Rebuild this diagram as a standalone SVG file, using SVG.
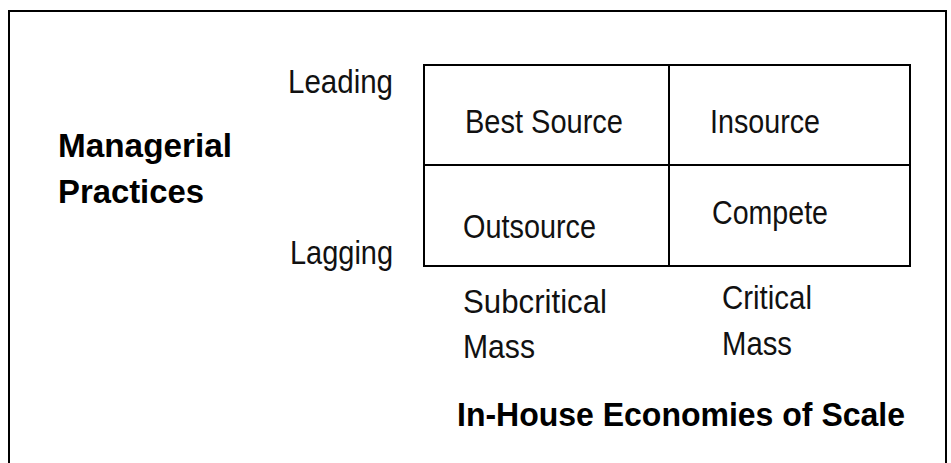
<svg xmlns="http://www.w3.org/2000/svg" width="951" height="463" viewBox="0 0 951 463">
<style>
.t{font-family:"Liberation Sans",Arial,sans-serif;font-size:34px;fill:#111}
.b{font-family:"Liberation Sans",Arial,sans-serif;font-size:33px;font-weight:bold;fill:#000}
.ln{stroke:#000;stroke-width:2;fill:none}
</style>
<rect width="951" height="463" fill="#fff"/>
<path class="ln" d="M9 463 V11 H946 V463" stroke-width="3"/>
<g id="axis-y">
<text class="b" x="58" y="157" textLength="174" lengthAdjust="spacingAndGlyphs">Managerial</text>
<text class="b" x="58" y="203" textLength="146" lengthAdjust="spacingAndGlyphs">Practices</text>
<text class="t" x="288" y="93" textLength="105" lengthAdjust="spacingAndGlyphs">Leading</text>
<text class="t" x="290" y="264" textLength="103" lengthAdjust="spacingAndGlyphs">Lagging</text>
</g>
<g id="grid">
<rect class="ln" x="424" y="65" width="486" height="201"/>
<line class="ln" x1="669" y1="65" x2="669" y2="266"/>
<line class="ln" x1="424" y1="165" x2="910" y2="165"/>
</g>
<g id="cell-best-source"><text class="t" x="465" y="133" textLength="158" lengthAdjust="spacingAndGlyphs">Best Source</text></g>
<g id="cell-insource"><text class="t" x="710" y="133" textLength="110" lengthAdjust="spacingAndGlyphs">Insource</text></g>
<g id="cell-outsource"><text class="t" x="463" y="238" textLength="133" lengthAdjust="spacingAndGlyphs">Outsource</text></g>
<g id="cell-compete"><text class="t" x="712" y="224" textLength="116" lengthAdjust="spacingAndGlyphs">Compete</text></g>
<g id="axis-x">
<text class="t" x="463" y="313" textLength="144" lengthAdjust="spacingAndGlyphs">Subcritical</text>
<text class="t" x="463" y="358" textLength="72" lengthAdjust="spacingAndGlyphs">Mass</text>
<text class="t" x="722" y="309" textLength="90" lengthAdjust="spacingAndGlyphs">Critical</text>
<text class="t" x="722" y="355" textLength="70" lengthAdjust="spacingAndGlyphs">Mass</text>
<text class="b" x="457" y="426" textLength="448" lengthAdjust="spacingAndGlyphs">In-House Economies of Scale</text>
</g>
</svg>
